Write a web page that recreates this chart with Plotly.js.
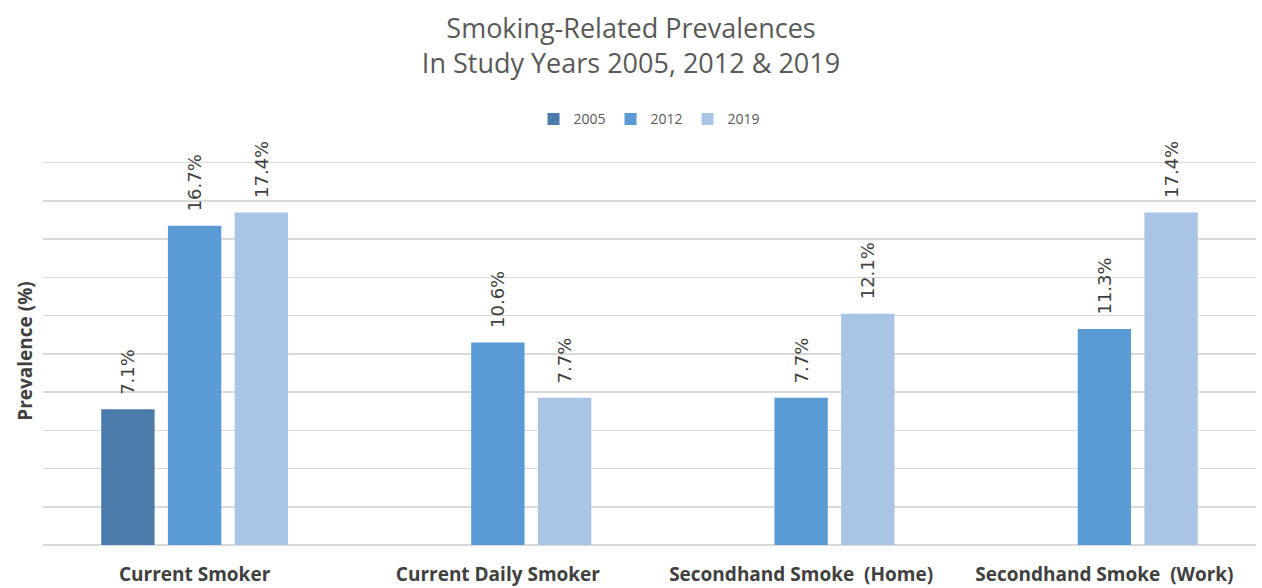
<!DOCTYPE html>
<html>
<head>
<meta charset="utf-8">
<script src="https://cdn.plot.ly/plotly-3.0.1.min.js"></script>
<style>
  html, body { margin: 0; padding: 0; background: #ffffff; }
  #chart { width: 1262px; height: 588px; }
</style>
</head>
<body>
<div id="chart"></div>
<script>
// Smoking-related prevalences by study year (%)
const categories = ["Current Smoker", "Current Daily Smoker", "Secondhand Smoke  (Home)", "Secondhand Smoke  (Work)"];
const years = ["2005", "2012", "2019"];
const values2005 = [7.1, null, null, null];
const values2012 = [16.7, 10.6, 7.7, 11.3];
const values2019 = [17.4, 7.7, 12.1, 17.4];
const yearColors = ["#4a7bab", "#5b9bd5", "#a9c4e4"];

const series = [values2005, values2012, values2019];

const traces = series.map((vals, i) => ({
  type: "bar",
  name: years[i],
  x: categories,
  y: vals,
  marker: { color: yearColors[i] },
  text: vals.map(v => v == null ? "" : "\u00a0\u00a0" + v.toFixed(1) + "%"),
  textposition: "outside",
  textangle: -90,
  constraintext: "none",
  cliponaxis: false,
  textfont: { family: "DejaVu Sans", size: 18, color: "#404040" },
  hoverinfo: "x+y+name"
}));

const layout = {
  width: 1262,
  height: 588,
  paper_bgcolor: "#ffffff",
  plot_bgcolor: "#ffffff",
  margin: { l: 43, r: 6, t: 157, b: 43 },
  barmode: "group",
  bargap: 0.34,
  bargroupgap: 0.2,
  title: {
    text: "Smoking-Related Prevalences<br>In Study Years 2005, 2012 & 2019",
    font: { family: "Open Sans", size: 27, color: "#595959" },
    x: 0.5,
    xanchor: "center",
    y: 0.935,
    yanchor: "middle"
  },
  showlegend: true,
  legend: {
    orientation: "h",
    x: 0.5,
    xanchor: "center",
    y: 1.097,
    yanchor: "middle",
    font: { family: "Open Sans", size: 14, color: "#595959" },
    itemwidth: 30,
    traceorder: "normal"
  },
  xaxis: {
    type: "category",
    showgrid: false,
    showline: false,
    ticks: "outside",
    ticklen: 12,
    tickcolor: "rgba(0,0,0,0)",
    tickfont: { family: "Open Sans", size: 19, color: "#404040", weight: "bold" },
    fixedrange: true
  },
  yaxis: {
    range: [0, 20.3],
    tick0: 0,
    dtick: 2,
    showticklabels: false,
    showgrid: true,
    gridcolor: "#d9d9d9",
    gridwidth: 1.5,
    zeroline: true,
    zerolinecolor: "#d9d9d9",
    zerolinewidth: 1.5,
    title: {
      text: "Prevalence (%)",
      font: { family: "Open Sans", size: 19, color: "#404040", weight: "bold" },
      standoff: 4
    },
    fixedrange: true
  }
};

Plotly.newPlot("chart", traces, layout, { displayModeBar: false, staticPlot: true });
</script>
</body>
</html>
